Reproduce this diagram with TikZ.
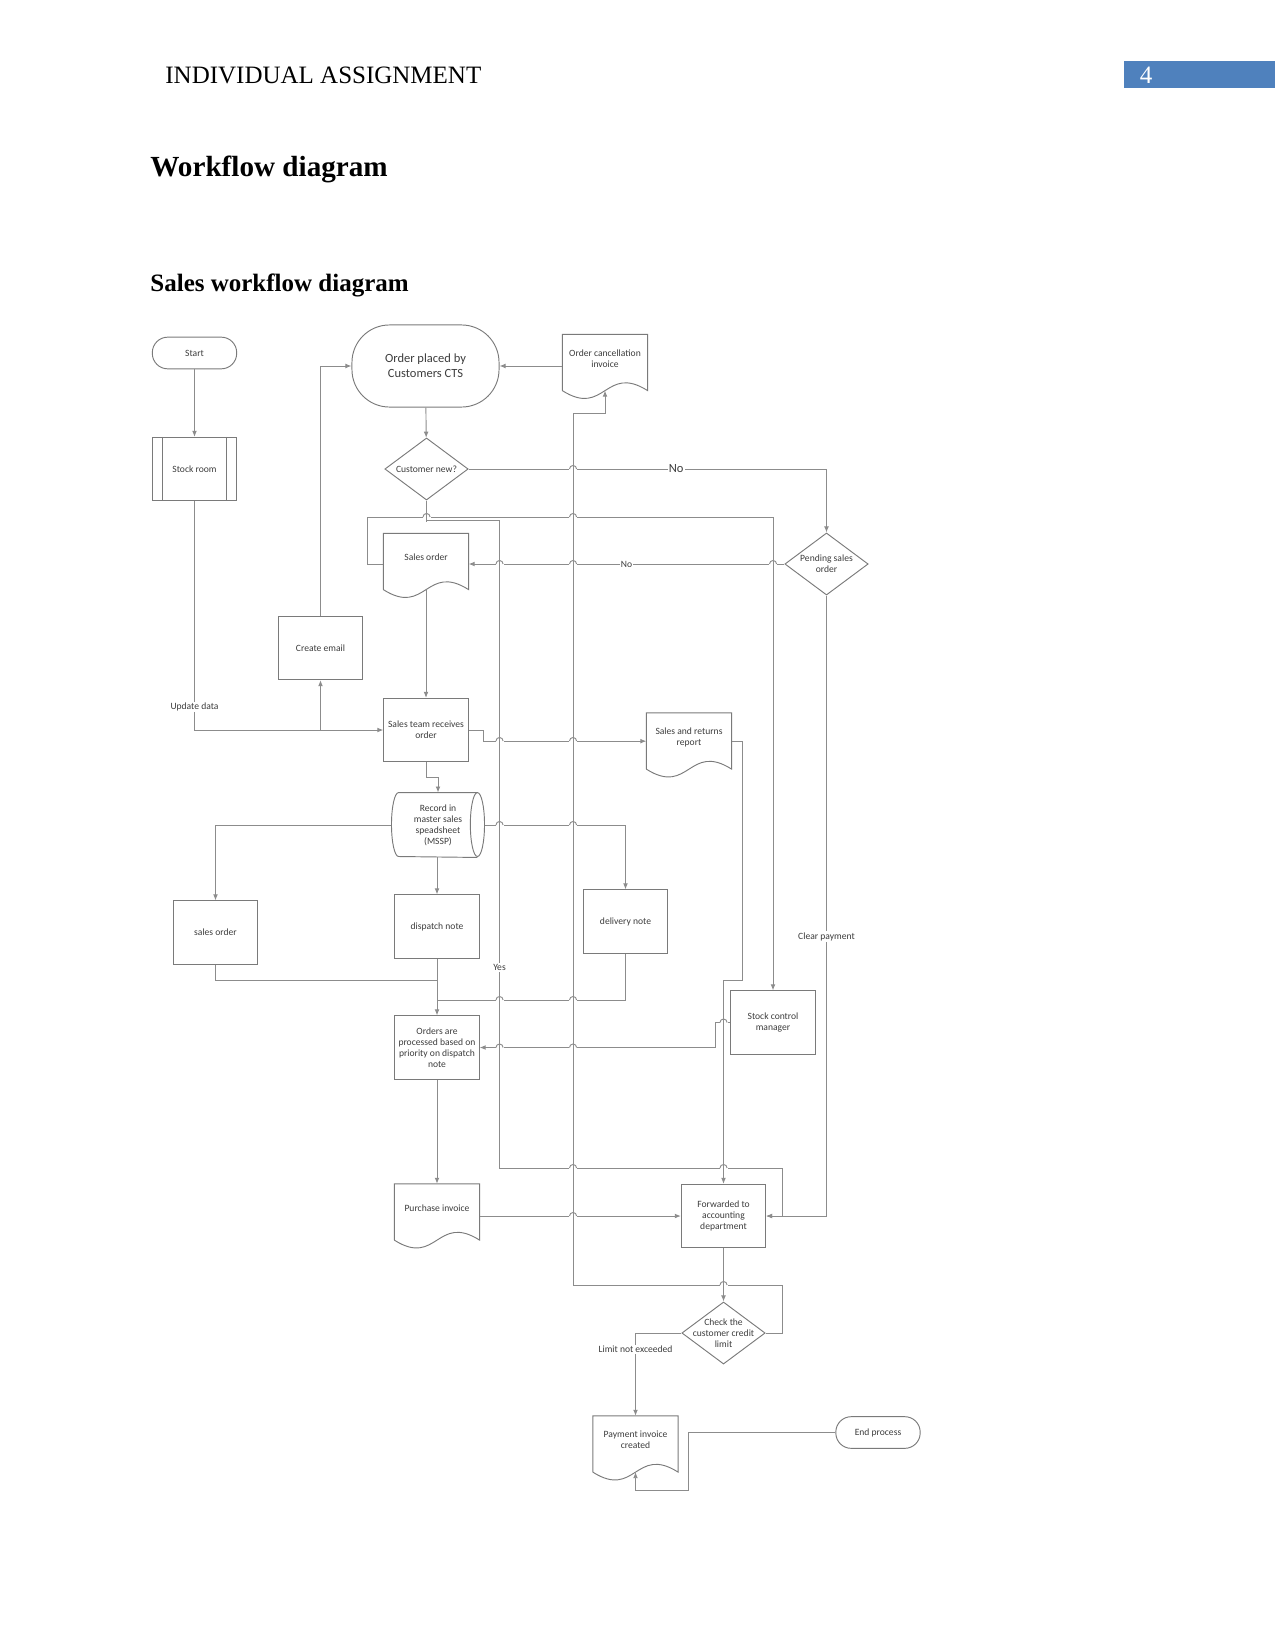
\documentclass[tikz,border=0pt]{standalone}
\usepackage{fontspec}
\setmainfont{Liberation Serif}
\newfontfamily\visiofont{Carlito}
\usetikzlibrary{arrows.meta,shapes.geometric,calc}
\definecolor{wfline}{HTML}{8C8C8C}
\definecolor{wfedge}{HTML}{7A7A7A}
\definecolor{wftext}{HTML}{3C3C3C}
\definecolor{wfblue}{HTML}{4F81BD}
\newcommand{\dfont}{\visiofont\fontsize{4.6}{5.3}\selectfont}
\tikzset{
  box/.style={rectangle, draw=wfedge, line width=0.45pt, minimum width=40.5pt,
    minimum height=30.4pt, inner sep=1pt, align=center, font=\dfont, text=wftext},
  startstop/.style={box, rounded corners=7.4pt, minimum height=15.2pt},
  docbox/.style={box, draw=none, minimum height=22.8pt},
  decision/.style={diamond, draw=wfedge, line width=0.45pt, minimum width=40pt,
    minimum height=29.8pt, inner sep=0pt},
  dlabel/.style={label={[align=center, font=\dfont, text=wftext]center:#1}},
  outline/.style={draw=wfedge, line width=0.45pt},
  line/.style={draw=wfline, line width=0.45pt},
  conn/.style={line, -{Latex[length=2.9pt,width=2.3pt]}},
  lbl/.style={font=\dfont, text=wftext, fill=white, inner sep=0.6pt}
}
% wavy bottom of a document shape, sides run 3.8pt below the node
\newcommand{\docedge}[1]{%
  \draw[outline] ([yshift=-3.8pt]#1.south west) -- (#1.north west) -- (#1.north east)
    -- ([yshift=-3.8pt]#1.south east)
    .. controls ([yshift=9.2pt]#1.south) and ([yshift=-16.8pt]#1.south) .. ([yshift=-3.8pt]#1.south west);}
% line hop where a horizontal line crosses a vertical one
\newcommand{\hop}[2]{%
  \fill[white] (#1-4,#2-2) rectangle (#1+4,#2+2);
  \draw[line] (#1,#2-5) -- (#1,#2+5);
  \draw[line] (#1-3.5,#2) arc[start angle=180, end angle=0, radius=1.7pt];}

\begin{document}
\begin{tikzpicture}[x=0.48pt, y=-0.48pt]
\useasboundingbox (0,0) rectangle (1275,1651);

% page header
\fill[wfblue] (1124,61) rectangle (1275,88);
\node[anchor=base west, inner sep=0pt, font=\fontsize{12}{14}\selectfont] (hdr) at (165,84) {INDIVIDUAL ASSIGNMENT};
\node[anchor=base, inner sep=0pt, text=white, font=\fontsize{12}{14}\selectfont] (pgno) at (1146,84) {4};
\node[anchor=base west, inner sep=0pt, font=\bfseries\fontsize{14}{17}\selectfont] (title) at (150,177) {Workflow diagram};
\node[anchor=base west, inner sep=0pt, font=\bfseries\fontsize{12}{14}\selectfont] (subtitle) at (150,291) {Sales workflow diagram};

% shapes
\node[startstop] (start) at (194.5,353) {Start};
\node[box] (stock) at (194.5,469) {Stock room};
\node[box, rounded corners=18pt, minimum width=70.6pt, minimum height=39.4pt,
      font=\visiofont\fontsize{6}{7.2}\selectfont] (cts) at (425.5,366) {Order placed by\\Customers CTS};
\node[docbox] (cancel) at (605,358.5) {Order cancellation\\invoice};
\node[decision, dlabel={Customer new?}] (custnew) at (426.5,469) {};
\node[decision, dlabel={Pending sales\\order}] (pending) at (826.5,564) {};
\node[docbox] (salesord) at (426,557.5) {Sales order};
\node[box] (email) at (320.5,648) {Create email};
\node[box] (team) at (426,730) {Sales team receives\\order};
\node[docbox] (report) at (689,737) {Sales and returns\\report};
\node[box, draw=none, minimum width=44.2pt, minimum height=30.7pt] (mssp) at (438,825)
  {Record in\\master sales\\speadsheet\\(MSSP)};
\node[box] (sorder) at (215.5,932.5) {sales order};
\node[box] (dispatch) at (437,926.5) {dispatch note};
\node[box] (delivery) at (625.5,921.5) {delivery note};
\node[box] (stockctl) at (773,1022.5) {Stock control\\manager};
\node[box] (orders) at (437,1047.5) {Orders are\\processed based on\\priority on dispatch\\note};
\node[docbox] (purchase) at (437,1208) {Purchase invoice};
\node[box] (forward) at (723.5,1216) {Forwarded to\\accounting\\department};
\node[decision, dlabel={Check the\\customer credit\\limit}] (check) at (723.5,1333) {};
\node[docbox] (payment) at (635.5,1440) {Payment invoice\\created};
\node[startstop] (endp) at (878,1432.5) {End process};

\foreach \d in {cancel,salesord,report,purchase,payment} {\docedge{\d}}
\draw[outline] ([xshift=5.3pt]stock.north west) -- ([xshift=5.3pt]stock.south west);
\draw[outline] ([xshift=-5.3pt]stock.north east) -- ([xshift=-5.3pt]stock.south east);
\draw[outline] ([xshift=-3.4pt]mssp.north east) arc[start angle=90, end angle=450, x radius=3.4pt, y radius=15.35pt];
\draw[outline] ([xshift=-3.4pt]mssp.north east) -- ([xshift=3.4pt]mssp.north west)
  arc[start angle=90, end angle=270, x radius=3.4pt, y radius=15.35pt] -- ([xshift=-3.4pt]mssp.south east);

% connectors
\draw[conn] (start) -- (stock);
\draw[conn] (stock) |- (team) node[lbl, pos=0.45] (updlbl) {Update data};
\draw[conn] (email.south |- team.west) -- (email.south);
\draw[conn] (email.north) |- (cts.west);
\draw[conn] (cancel.west |- cts.east) -- (cts.east);
\draw[conn] (cts) -- (custnew);
\draw[conn] (custnew.east) -| (pending.north)
  node[lbl, pos=0.29, font=\visiofont\fontsize{6}{7}\selectfont] (nolbl1) {No};
\draw[conn] (pending.west) -- (pending.west -| salesord.east) node[lbl, midway] (nolbl2) {No};
\draw[conn] (custnew.south) -- ++(0,20) -- ++(73,0) -- ++(0,648) node[lbl, pos=0.69] (yeslbl) {Yes}
  -- ++(283,0) |- (forward.east);
\draw[conn] (salesord.west |- pending.west) -- ++(-16,0) -- ++(0,-47) -| (stockctl.north);
\draw[conn] ([yshift=-3.8pt]salesord.south) -- (team.north);
\draw[conn] (team.east) -- ++(15,0) |- ([yshift=-2pt]report.west);
\draw[conn] (team.south) -- ++(0,15) -| (mssp.north);
\draw[conn] (mssp.west) -| (sorder.north);
\draw[conn] (mssp.south -| dispatch.north) -- (dispatch.north);
\draw[conn] (mssp.east) -| (delivery.north);
\coordinate (sojoin) at (437,980);
\coordinate (dnjoin) at (437,1000);
\draw[line] (sorder.south) |- (sojoin);
\draw[line] (delivery.south) |- (dnjoin);
\draw[conn] (dispatch) -- (orders);
\draw[conn] (stockctl.west) -- ++(-15,0) |- (orders.east);
\draw[conn] ([yshift=-2pt]report.east) -- ++(11,0) -- ++(0,239) -| (forward.north);
\draw[conn] (orders) -- (purchase);
\draw[conn] (purchase.east |- forward.west) -- (forward.west);
\draw[conn] (pending.south) |- (forward.east) node[lbl, pos=0.275] (paylbl) {Clear payment};
\draw[conn] (forward) -- (check);
\draw[conn] (check.east) -- ++(17,0) -- ++(0,-48) -- ++(-209,0) -- ++(0,-872) -| ([yshift=-3.8pt]cancel.south);
\draw[conn] (check.west) -| (payment.north) node[lbl, pos=0.6] (limlbl) {Limit not exceeded};
\draw[conn] (endp.west) -- ++(-147,0) -- ++(0,57.5) -| ([yshift=-3.8pt]payment.south);

% line hops
\foreach \hx/\hy in {573/469, 426.5/517, 573/517, 499.5/564, 573/564, 773/564,
    499.5/741, 573/741, 499.5/825, 573/825, 499.5/1000, 573/1000, 499.5/1047.5,
    573/1047.5, 723.5/1022.5, 573/1168, 723.5/1168, 573/1216, 723.5/1285}
  {\hop{\hx}{\hy}}
\end{tikzpicture}
\end{document}
